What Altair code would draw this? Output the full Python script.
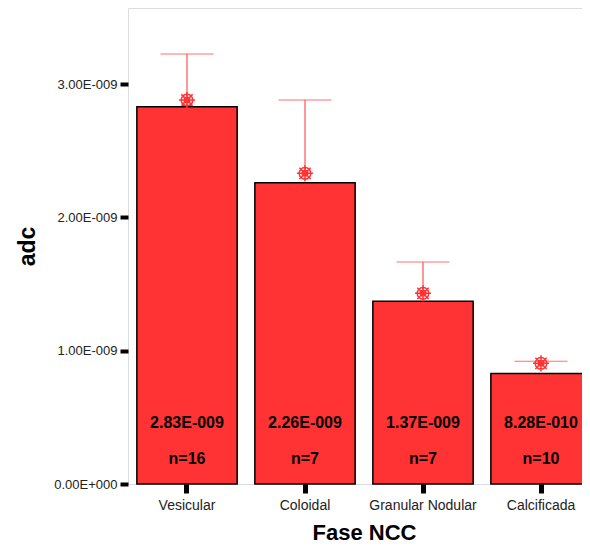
import altair as alt
import pandas as pd

categories = ["Vesicular", "Coloidal", "Granular Nodular", "Calcificada"]
means = [2.83e-9, 2.26e-9, 1.37e-9, 8.28e-10]
counts = [16, 7, 7, 10]
marker_vals = [2.88e-9, 2.33e-9, 1.43e-9, 0.905e-9]
upper_vals = [3.225e-9, 2.88e-9, 1.665e-9, 0.92e-9]


def spss_fmt(v):
    s = f"{v:.2E}"
    mant, exp = s.split("E")
    sign = exp[0]
    return f"{mant}E{sign}{int(exp[1:]):03d}"


df = pd.DataFrame({
    "fase": categories,
    "mean": means,
    "n": counts,
    "marker": marker_vals,
    "upper": upper_vals,
    "label": [spss_fmt(v) for v in means],
    "nlabel": [f"n={c}" for c in counts],
})

RED = "#FF3333"
FONT = "Liberation Sans"

xenc = alt.X(
    "fase:N", sort=categories, title="Fase NCC",
    scale=alt.Scale(paddingInner=0.15, paddingOuter=0.075, range=[0, 472]),
    axis=alt.Axis(
        labelAngle=0, labelFontSize=14, labelColor="#222", labelFont=FONT,
        labelPadding=5, ticks=True, tickSize=9, tickWidth=5, tickColor="black",
        domain=False, titleFontSize=22, titleFontWeight="bold", titleFont=FONT,
        titleColor="black", titlePadding=10, titleX=236,
    ),
)
yscale = alt.Scale(domain=[0, 3.57e-9], nice=False, zero=True)
yaxis = alt.Axis(
    values=[0, 1e-9, 2e-9, 3e-9],
    labelExpr="datum.value == 0 ? '0.00E+000' : replace(format(datum.value, '.2e'), 'e-', 'E-00')",
    labelFontSize=13, labelColor="#222", labelFont=FONT, labelPadding=3,
    tickSize=8, tickWidth=4, tickColor="black", domain=False, grid=False,
    titleFontSize=23, titleFontWeight="bold", titleFont=FONT, titleColor="black",
    titlePadding=14,
)

base = alt.Chart(df)

rule = base.mark_rule(color=RED, strokeWidth=1).encode(
    x=xenc,
    y=alt.Y("marker:Q", scale=yscale, axis=yaxis, title="adc"),
    y2="upper:Q",
)
bars = base.mark_bar(fill=RED, stroke="black", strokeWidth=1.5).encode(
    x=xenc,
    y=alt.Y("mean:Q", scale=yscale, axis=yaxis, title="adc"),
)
caps = base.mark_tick(color=RED, size=53, thickness=1).encode(
    x=xenc,
    y=alt.Y("upper:Q", scale=yscale),
)
wheel = ("M0.72,0A0.72,0.72,0,1,1,-0.72,0A0.72,0.72,0,1,1,0.72,0"
         "M0.35,0A0.35,0.35,0,1,1,-0.35,0A0.35,0.35,0,1,1,0.35,0"
         "M-1,0L1,0M0,-1L0,1M-0.7,-0.7L0.7,0.7M-0.7,0.7L0.7,-0.7")
markers = base.mark_point(shape=wheel, filled=False, stroke=RED, strokeWidth=1.5,
                          size=260, opacity=1).encode(
    x=xenc,
    y=alt.Y("marker:Q", scale=yscale),
)
vtext = base.mark_text(fontSize=16, fontWeight="bold", font=FONT, color="black",
                       dy=-61).encode(
    x=xenc, y=alt.datum(0, scale=yscale), text="label:N",
)
ntext = base.mark_text(fontSize=16, fontWeight="bold", font=FONT, color="black",
                       dy=-25).encode(
    x=xenc, y=alt.datum(0, scale=yscale), text="nlabel:N",
)

chart = alt.layer(rule, bars, caps, markers, vtext, ntext).properties(
    width=454, height=476,
    autosize=alt.AutoSizeParams(type="none"),
    padding={"left": 120, "top": 0, "right": 0, "bottom": 62},
).configure_view(stroke="#555", strokeWidth=1).configure(background="white")

chart.save("out.html", embed_options={"renderer": "svg", "actions": False})
